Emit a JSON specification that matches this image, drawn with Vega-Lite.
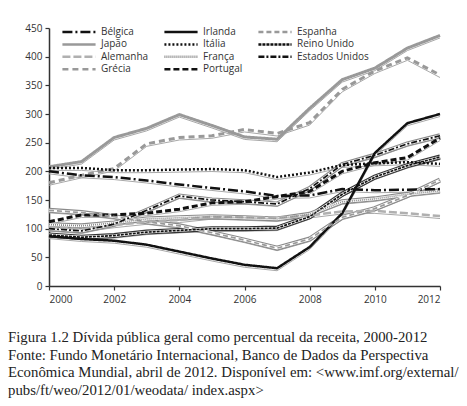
{
"$schema":"https://vega.github.io/schema/vega-lite/v6.json",
"width":391,"height":258,
"autosize":{"type":"none"},
"padding":{"left":49,"top":28,"right":27,"bottom":120},
"background":"white",
"config":{"view":{"stroke":null},"font":"Open Sans",
 "axis":{"domainColor":"#333","domainWidth":1.5,"tickColor":"#333","tickWidth":1.2,"tickSize":4,"labelColor":"#333","labelFontSize":10,"labelPadding":3,"grid":false,"title":null},
 "title":{"font":"Liberation Serif","fontSize":14.8,"fontWeight":"normal","color":"#222","subtitleFont":"Liberation Serif","subtitleFontSize":14.8,"subtitleColor":"#222","subtitleLineHeight":17.5,"subtitlePadding":3}},
"title":{"text":"Figura 1.2    Dívida pública geral como percentual da receita, 2000-2012","subtitle":["Fonte: Fundo Monetário Internacional, Banco de Dados da Perspectiva","Econômica Mundial, abril de 2012. Disponível em: <www.imf.org/external/","pubs/ft/weo/2012/01/weodata/ index.aspx>"],"orient":"bottom","anchor":"start","frame":"group","dx":-41,"offset":26},
"data":{"values":[
{"country":"Bélgica","year":2000,"value":200},{"country":"Bélgica","year":2001,"value":193},{"country":"Bélgica","year":2002,"value":190},{"country":"Bélgica","year":2003,"value":184},{"country":"Bélgica","year":2004,"value":177},{"country":"Bélgica","year":2005,"value":171},{"country":"Bélgica","year":2006,"value":165},{"country":"Bélgica","year":2007,"value":157},{"country":"Bélgica","year":2008,"value":158},{"country":"Bélgica","year":2009,"value":169},{"country":"Bélgica","year":2010,"value":167},{"country":"Bélgica","year":2011,"value":168},{"country":"Bélgica","year":2012,"value":169},
{"country":"Irlanda","year":2000,"value":87},{"country":"Irlanda","year":2001,"value":82},{"country":"Irlanda","year":2002,"value":79},{"country":"Irlanda","year":2003,"value":72},{"country":"Irlanda","year":2004,"value":60},{"country":"Irlanda","year":2005,"value":48},{"country":"Irlanda","year":2006,"value":37},{"country":"Irlanda","year":2007,"value":31},{"country":"Irlanda","year":2008,"value":68},{"country":"Irlanda","year":2009,"value":127},{"country":"Irlanda","year":2010,"value":232},{"country":"Irlanda","year":2011,"value":284},{"country":"Irlanda","year":2012,"value":300},
{"country":"Espanha","year":2000,"value":132},{"country":"Espanha","year":2001,"value":128},{"country":"Espanha","year":2002,"value":121},{"country":"Espanha","year":2003,"value":112},{"country":"Espanha","year":2004,"value":105},{"country":"Espanha","year":2005,"value":93},{"country":"Espanha","year":2006,"value":80},{"country":"Espanha","year":2007,"value":66},{"country":"Espanha","year":2008,"value":82},{"country":"Espanha","year":2009,"value":120},{"country":"Espanha","year":2010,"value":135},{"country":"Espanha","year":2011,"value":158},{"country":"Espanha","year":2012,"value":185},
{"country":"Japão","year":2000,"value":208},{"country":"Japão","year":2001,"value":217},{"country":"Japão","year":2002,"value":259},{"country":"Japão","year":2003,"value":275},{"country":"Japão","year":2004,"value":299},{"country":"Japão","year":2005,"value":280},{"country":"Japão","year":2006,"value":260},{"country":"Japão","year":2007,"value":256},{"country":"Japão","year":2008,"value":310},{"country":"Japão","year":2009,"value":360},{"country":"Japão","year":2010,"value":380},{"country":"Japão","year":2011,"value":415},{"country":"Japão","year":2012,"value":437},
{"country":"Itália","year":2000,"value":206},{"country":"Itália","year":2001,"value":206},{"country":"Itália","year":2002,"value":202},{"country":"Itália","year":2003,"value":202},{"country":"Itália","year":2004,"value":203},{"country":"Itália","year":2005,"value":204},{"country":"Itália","year":2006,"value":202},{"country":"Itália","year":2007,"value":190},{"country":"Itália","year":2008,"value":198},{"country":"Itália","year":2009,"value":211},{"country":"Itália","year":2010,"value":214},{"country":"Itália","year":2011,"value":216},{"country":"Itália","year":2012,"value":213},
{"country":"Reino Unido","year":2000,"value":89},{"country":"Reino Unido","year":2001,"value":85},{"country":"Reino Unido","year":2002,"value":88},{"country":"Reino Unido","year":2003,"value":94},{"country":"Reino Unido","year":2004,"value":97},{"country":"Reino Unido","year":2005,"value":100},{"country":"Reino Unido","year":2006,"value":100},{"country":"Reino Unido","year":2007,"value":101},{"country":"Reino Unido","year":2008,"value":121},{"country":"Reino Unido","year":2009,"value":160},{"country":"Reino Unido","year":2010,"value":190},{"country":"Reino Unido","year":2011,"value":210},{"country":"Reino Unido","year":2012,"value":225},
{"country":"Alemanha","year":2000,"value":103},{"country":"Alemanha","year":2001,"value":99},{"country":"Alemanha","year":2002,"value":106},{"country":"Alemanha","year":2003,"value":112},{"country":"Alemanha","year":2004,"value":115},{"country":"Alemanha","year":2005,"value":121},{"country":"Alemanha","year":2006,"value":120},{"country":"Alemanha","year":2007,"value":119},{"country":"Alemanha","year":2008,"value":123},{"country":"Alemanha","year":2009,"value":130},{"country":"Alemanha","year":2010,"value":131},{"country":"Alemanha","year":2011,"value":127},{"country":"Alemanha","year":2012,"value":122},
{"country":"França","year":2000,"value":107},{"country":"França","year":2001,"value":105},{"country":"França","year":2002,"value":110},{"country":"França","year":2003,"value":117},{"country":"França","year":2004,"value":119},{"country":"França","year":2005,"value":121},{"country":"França","year":2006,"value":119},{"country":"França","year":2007,"value":117},{"country":"França","year":2008,"value":125},{"country":"França","year":2009,"value":147},{"country":"França","year":2010,"value":152},{"country":"França","year":2011,"value":160},{"country":"França","year":2012,"value":166},
{"country":"Estados Unidos","year":2000,"value":100},{"country":"Estados Unidos","year":2001,"value":96},{"country":"Estados Unidos","year":2002,"value":108},{"country":"Estados Unidos","year":2003,"value":132},{"country":"Estados Unidos","year":2004,"value":157},{"country":"Estados Unidos","year":2005,"value":150},{"country":"Estados Unidos","year":2006,"value":147},{"country":"Estados Unidos","year":2007,"value":143},{"country":"Estados Unidos","year":2008,"value":170},{"country":"Estados Unidos","year":2009,"value":212},{"country":"Estados Unidos","year":2010,"value":228},{"country":"Estados Unidos","year":2011,"value":248},{"country":"Estados Unidos","year":2012,"value":262},
{"country":"Grécia","year":2000,"value":180},{"country":"Grécia","year":2001,"value":193},{"country":"Grécia","year":2002,"value":205},{"country":"Grécia","year":2003,"value":248},{"country":"Grécia","year":2004,"value":259},{"country":"Grécia","year":2005,"value":262},{"country":"Grécia","year":2006,"value":273},{"country":"Grécia","year":2007,"value":266},{"country":"Grécia","year":2008,"value":285},{"country":"Grécia","year":2009,"value":343},{"country":"Grécia","year":2010,"value":375},{"country":"Grécia","year":2011,"value":398},{"country":"Grécia","year":2012,"value":368},
{"country":"Portugal","year":2000,"value":112},{"country":"Portugal","year":2001,"value":124},{"country":"Portugal","year":2002,"value":124},{"country":"Portugal","year":2003,"value":127},{"country":"Portugal","year":2004,"value":134},{"country":"Portugal","year":2005,"value":145},{"country":"Portugal","year":2006,"value":147},{"country":"Portugal","year":2007,"value":156},{"country":"Portugal","year":2008,"value":165},{"country":"Portugal","year":2009,"value":200},{"country":"Portugal","year":2010,"value":215},{"country":"Portugal","year":2011,"value":224},{"country":"Portugal","year":2012,"value":258}
]},
"encoding":{
 "x":{"field":"year","type":"quantitative","scale":{"domain":[2000,2012],"nice":false},"axis":{"values":[2000,2002,2004,2006,2008,2010,2012],"format":"d","labelPadding":4}},
 "y":{"field":"value","type":"quantitative","scale":{"domain":[0,450],"nice":false},"axis":{"values":[0,50,100,150,200,250,300,350,400,450]}}
},
"layer":[
 {"mark":{"type":"line","stroke":"#a8a8a8","strokeWidth":1,"yOffset":2.5},"encoding":{"detail":{"field":"country"}}},
 {"transform":[{"filter":{"field":"country","oneOf":["Espanha","Reino Unido","França","Estados Unidos"]}}],
  "mark":{"type":"line","strokeWidth":5},
  "encoding":{"detail":{"field":"country"},"color":{"condition":{"test":"datum.country==='Reino Unido'","value":"#333"},"value":"#8a8a8a"}}},
 {"transform":[{"filter":{"field":"country","oneOf":["Espanha","Reino Unido","França","Estados Unidos"]}}],
  "mark":{"type":"line","stroke":"white","strokeWidth":2.8},
  "encoding":{"detail":{"field":"country"}}},
 {"transform":[{"filter":{"field":"country","oneOf":["Japão","Grécia","Portugal"]}}],
  "mark":{"type":"line","strokeWidth":3},
  "encoding":{
   "color":{"field":"country","type":"nominal","scale":{"domain":["Bélgica","Irlanda","Espanha","Japão","Itália","Reino Unido","Alemanha","França","Estados Unidos","Grécia","Portugal"],"range":["#111","#111","#999","#999","#111","#111","#b0b0b0","#888","#111","#999","#111"]},
    "legend":{"title":null,"orient":"none","legendX":12,"legendY":-2,"direction":"horizontal","columns":3,"symbolType":"stroke","symbolSize":1100,"clipHeight":12,"symbolStrokeWidth":2.5,"labelFontSize":10,"labelColor":"#333","columnPadding":14,"rowPadding":0.4,"labelOffset":4}},
   "strokeDash":{"field":"country","type":"nominal","scale":{"domain":["Bélgica","Irlanda","Espanha","Japão","Itália","Reino Unido","Alemanha","França","Estados Unidos","Grécia","Portugal"],"range":[[10,3,2,3],[1,0],[5,3],[1,0],[2,2],[3,1],[8,3],[1,1],[6,2,2,2],[6,4],[6,3]]}}}},
 {"transform":[{"filter":{"field":"country","oneOf":["Bélgica","Irlanda","Itália","Alemanha"]}}],
  "mark":{"type":"line","strokeWidth":2.5},
  "encoding":{
   "color":{"field":"country","type":"nominal"},
   "strokeDash":{"field":"country","type":"nominal"}}},
 {"transform":[{"filter":{"field":"country","oneOf":["Espanha","Reino Unido","França","Estados Unidos"]}}],
  "mark":{"type":"line","strokeWidth":1.7},
  "encoding":{
   "color":{"field":"country","type":"nominal"},
   "strokeDash":{"field":"country","type":"nominal"}}}
]
}
